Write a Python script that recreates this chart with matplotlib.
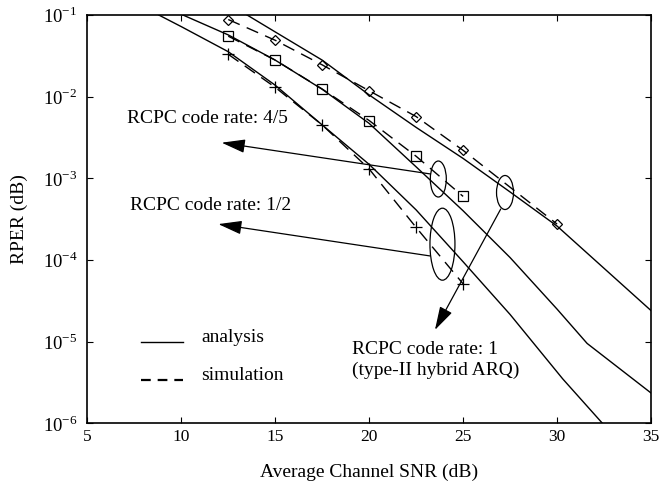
import matplotlib
matplotlib.use('Agg')
import matplotlib.pyplot as plt
from matplotlib.patches import Ellipse
from matplotlib.ticker import NullLocator

plt.rcParams['font.family'] = ['Liberation Serif', 'DejaVu Serif']
plt.rcParams['mathtext.fontset'] = 'custom'
plt.rcParams['mathtext.rm'] = 'Liberation Serif'
plt.rcParams['lines.scale_dashes'] = False

# analysis curves (solid)
snr_rate1 = [13.5, 15, 17.5, 20, 22.5, 25, 27.5, 30, 32.5, 35]
rper_rate1 = [1.0e-1, 6.2e-2, 2.8e-2, 1.05e-2, 4.2e-3, 1.75e-3, 6.8e-4, 2.6e-4, 7.9e-5, 2.4e-5]

snr_rate45 = [10, 12.5, 15, 17.5, 20, 22.5, 25, 27.5, 30, 31.6, 35]
rper_rate45 = [1.02e-1, 5.7e-2, 2.8e-2, 1.23e-2, 4.7e-3, 1.38e-3, 4.0e-4, 1.07e-4, 2.5e-5, 9.5e-6, 2.35e-6]

snr_rate12 = [8.8, 10, 12.5, 15, 17.5, 20, 22.5, 25, 27.5, 30.3, 32.5]
rper_rate12 = [1.0e-1, 7.2e-2, 3.55e-2, 1.38e-2, 4.5e-3, 1.48e-3, 4.1e-4, 9.5e-5, 2.15e-5, 3.5e-6, 9.5e-7]

# simulation points (dashed + markers)
sim_snr_rate1 = [12.5, 15, 17.5, 20, 22.5, 25, 30]
sim_rper_rate1 = [8.8e-2, 4.9e-2, 2.45e-2, 1.18e-2, 5.7e-3, 2.2e-3, 2.75e-4]

sim_snr = [12.5, 15, 17.5, 20, 22.5, 25]
sim_rper_rate45 = [5.5e-2, 2.8e-2, 1.24e-2, 5.1e-3, 1.86e-3, 6.0e-4]
sim_rper_rate12 = [3.3e-2, 1.3e-2, 4.5e-3, 1.3e-3, 2.5e-4, 5.1e-5]

xticks = [5, 10, 15, 20, 25, 30, 35]
yticks = [1e-6, 1e-5, 1e-4, 1e-3, 1e-2, 1e-1]
ytick_labels = [r'$10^{-6}$', r'$10^{-5}$', r'$10^{-4}$', r'$10^{-3}$', r'$10^{-2}$', r'$10^{-1}$']

LW = 1.0
DASH = (0, (9, 5.5))

fig = plt.figure(figsize=(6.6, 4.91), dpi=100)
ax = fig.add_axes([0.1323, 0.1379, 0.8541, 0.8316])

for x, y in [(snr_rate1, rper_rate1), (snr_rate45, rper_rate45), (snr_rate12, rper_rate12)]:
    ax.plot(x, y, color='black', lw=LW)

ax.plot(sim_snr_rate1, sim_rper_rate1, color='black', lw=LW, ls=DASH,
        marker='D', ms=5.5, mfc='none', mec='black', mew=0.9)
ax.plot(sim_snr, sim_rper_rate45, color='black', lw=LW, ls=DASH,
        marker='s', ms=7, mfc='none', mec='black', mew=0.9)
ax.plot(sim_snr, sim_rper_rate12, color='black', lw=LW, ls=DASH,
        marker='+', ms=8, mec='black', mew=0.9)

ax.set_yscale('log')
ax.set_xlim(5, 35)
ax.set_ylim(1e-6, 1e-1)
ax.set_xticks(xticks)
ax.set_xticklabels([str(t) for t in xticks])
ax.set_yticks(yticks)
ax.set_yticklabels(ytick_labels)
ax.yaxis.set_minor_locator(NullLocator())
ax.tick_params(direction='in', top=True, right=True, length=4, width=0.8,
               labelsize=12.5)
ax.tick_params(axis='y', pad=7, labelsize=13.5)
ax.tick_params(axis='x', pad=4)
for s in ax.spines.values():
    s.set_linewidth(1.2)

ax.set_xlabel('Average Channel SNR (dB)', fontsize=14)
ax.set_ylabel('RPER (dB)', fontsize=14)
ax.xaxis.set_label_coords(0.5, -0.1)
ax.yaxis.set_label_coords(-0.105, 0.5)


def ring(x, y, w_px, h_px):
    fx, fy = ax.transAxes.inverted().transform(ax.transData.transform((x, y)))
    bb = ax.get_window_extent()
    ax.add_patch(Ellipse((fx, fy), w_px / bb.width, h_px / bb.height,
                         transform=ax.transAxes, fill=False, lw=0.9, color='black'))


def pointer(tip, tail):
    ax.annotate('', xy=tip, xytext=tail,
                arrowprops=dict(arrowstyle='-|>,head_length=1.45,head_width=0.42',
                                mutation_scale=10, color='black', lw=0.9,
                                shrinkA=0, shrinkB=0))


ring(23.68, 9.8e-4, 16, 36)
ring(23.9, 1.56e-4, 25, 72)
ring(27.23, 6.7e-4, 17, 34)

pointer((12.15, 2.73e-3), (23.26, 1.13e-3))
pointer((11.97, 2.75e-4), (23.24, 1.12e-4))
pointer((23.5, 1.39e-5), (27.0, 4.2e-4))

ax.text(7.1, 5.4e-3, 'RCPC code rate: 4/5', fontsize=14, va='center', ha='left')
ax.text(7.27, 4.7e-4, 'RCPC code rate: 1/2', fontsize=14, va='center', ha='left')
ax.text(19.07, 8.1e-6, 'RCPC code rate: 1', fontsize=14, va='center', ha='left')
ax.text(19.07, 4.4e-6, '(type-II hybrid ARQ)', fontsize=14, va='center', ha='left')

# hand-made legend
ax.plot([7.84, 10.11], [1e-5, 1e-5], color='black', lw=LW)
ax.plot([7.84, 10.11], [3.4e-6, 3.4e-6], color='black', lw=1.6, ls=(0, (7, 5)))
ax.text(11.05, 1.13e-5, 'analysis', fontsize=14, va='center', ha='left')
ax.text(11.05, 3.83e-6, 'simulation', fontsize=14, va='center', ha='left')

fig.savefig('out.png', dpi=100)
